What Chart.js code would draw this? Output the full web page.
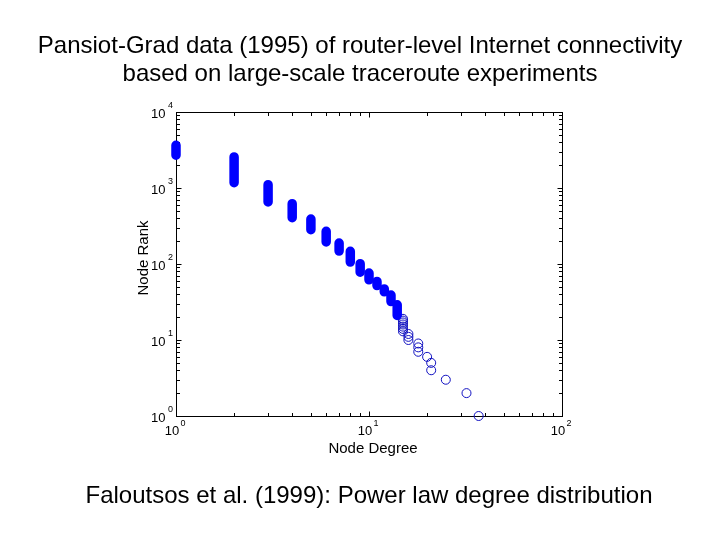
<!DOCTYPE html>
<html>
<head>
<meta charset="utf-8">
<script src="https://cdn.jsdelivr.net/npm/chart.js@4.4.1/dist/chart.umd.min.js"></script>
<style>
html, body { margin: 0; padding: 0; background: #fff; }
</style>
</head>
<body>
<canvas id="rankChart" width="720" height="540"></canvas>
<script>
// degrees where the rank markers overlap into solid bars
const bandDegrees = [1, 2, 3, 4, 5, 6, 7, 8, 9, 10, 11, 12, 13, 14];
const bandRankTop = [3650, 2560, 1105, 621, 391, 269, 189, 147, 101, 76, 59, 47, 39, 29];
const bandRankBottom = [2700, 1175, 654, 406, 283, 195, 148, 106, 78, 62, 52, 43, 32, 21];

// sparse tail, one circle per node
const tailDegrees = [15, 15, 15, 15, 15, 15, 15, 16, 16, 16, 18, 18, 18, 20, 21, 21, 25, 32, 37];
const tailRanks = [19, 18, 17, 16, 15, 14, 13, 12, 11, 10, 9, 8, 7, 6, 5, 4, 3, 2, 1];

// tick labels (10^n)
const xTickValues = [1, 10, 100];
const xTickExps = ['0', '1', '2'];
const yTickValues = [1, 10, 100, 1000, 10000];
const yTickExps = ['0', '1', '2', '3', '4'];

const titleLines = ['Pansiot-Grad data (1995) of router-level Internet connectivity',
    'based on large-scale traceroute experiments'];
const captionText = 'Faloutsos et al. (1999): Power law degree distribution';

const FONT = "'Liberation Sans', Arial, Helvetica, sans-serif";
const BLUE = '#0000ff';

var datasets = [];
bandDegrees.forEach(function (d, i) {
    datasets.push({
        data: [{ x: d, y: bandRankTop[i] }, { x: d, y: bandRankBottom[i] }],
        showLine: true,
        borderColor: BLUE,
        borderWidth: 9.5,
        borderCapStyle: 'round',
        pointRadius: 0,
        clip: false,
    });
});
datasets.push({
    data: tailDegrees.map(function (d, i) { return { x: d, y: tailRanks[i] }; }),
    pointStyle: 'circle',
    pointRadius: 4.5,
    pointBorderWidth: 1,
    pointBorderColor: '#1010c0',
    pointBackgroundColor: 'rgba(0,0,0,0)',
    showLine: false,
    clip: false,
});

// box, inward ticks, labels and texts (MATLAB style)
const matlabAxes = {
    id: 'matlabAxes',
    beforeDatasetsDraw: function (chart) {
        var ctx = chart.ctx, a = chart.chartArea;
        var xs = chart.scales.x, ys = chart.scales.y;
        ctx.save();
        ctx.strokeStyle = '#000';
        ctx.lineWidth = 1;
        var L = Math.round(a.left) + 0.5, R = Math.round(a.right) + 0.5;
        var T = Math.round(a.top) + 0.5, B = Math.round(a.bottom) + 0.5;
        ctx.strokeRect(L, T, R - L, B - T);
        ctx.beginPath();
        for (var k = 0; k < 2; k++) {
            for (var m = 1; m <= 9; m++) {
                var v = m * Math.pow(10, k);
                var px = Math.round(xs.getPixelForValue(v)) + 0.5;
                var len = m === 1 ? 5 : 3.5;
                ctx.moveTo(px, B); ctx.lineTo(px, B - len);
                ctx.moveTo(px, T); ctx.lineTo(px, T + len);
            }
        }
        for (var k2 = 0; k2 < 4; k2++) {
            for (var m2 = 1; m2 <= 9; m2++) {
                var v2 = m2 * Math.pow(10, k2);
                var py = Math.round(ys.getPixelForValue(v2)) + 0.5;
                var len2 = m2 === 1 ? 5 : 3.5;
                ctx.moveTo(L, py); ctx.lineTo(L + len2, py);
                ctx.moveTo(R, py); ctx.lineTo(R - len2, py);
            }
        }
        ctx.stroke();

        ctx.fillStyle = '#000';
        // x tick labels
        xTickValues.forEach(function (v, i) {
            var px = xs.getPixelForValue(v);
            ctx.font = '13px ' + FONT;
            ctx.textAlign = 'center';
            ctx.textBaseline = 'middle';
            ctx.fillText('10', px - 4, a.bottom + 15.5);
            ctx.font = '9px ' + FONT;
            ctx.textAlign = 'left';
            ctx.fillText(xTickExps[i], px + 4.5, a.bottom + 8);
        });
        // y tick labels
        yTickValues.forEach(function (v, i) {
            var py = ys.getPixelForValue(v);
            ctx.font = '13px ' + FONT;
            ctx.textAlign = 'right';
            ctx.textBaseline = 'middle';
            ctx.fillText('10', a.left - 10.5, py + 2);
            ctx.font = '9px ' + FONT;
            ctx.textAlign = 'left';
            ctx.fillText(yTickExps[i], a.left - 8, py - 6);
        });

        // axis titles
        ctx.font = '15px ' + FONT;
        ctx.textAlign = 'center';
        ctx.textBaseline = 'middle';
        ctx.fillText('Node Degree', 373, 449);
        ctx.save();
        ctx.translate(144, 258);
        ctx.rotate(-Math.PI / 2);
        ctx.fillText('Node Rank', 0, 0);
        ctx.restore();

        // title and caption
        ctx.font = '24px ' + FONT;
        ctx.textBaseline = 'alphabetic';
        ctx.fillText(titleLines[0], 360, 53);
        ctx.fillText(titleLines[1], 360, 81);
        ctx.fillText(captionText, 369, 503);
        ctx.restore();
    }
};

const ctx = document.getElementById('rankChart').getContext('2d');
const rankChart = new Chart(ctx, {
    type: 'scatter',
    data: { datasets: datasets },
    options: {
        responsive: false,
        animation: false,
        devicePixelRatio: 1,
        layout: { padding: { left: 168, top: 112, right: 158, bottom: 116 } },
        plugins: {
            legend: { display: false },
            tooltip: { enabled: false },
        },
        scales: {
            x: {
                type: 'logarithmic',
                min: 1,
                max: 100,
                ticks: { display: false },
                grid: { display: false },
                border: { display: false },
            },
            y: {
                type: 'logarithmic',
                min: 1,
                max: 10000,
                ticks: { display: false },
                grid: { display: false },
                border: { display: false },
            },
        },
    },
    plugins: [matlabAxes],
});
</script>
</body>
</html>
